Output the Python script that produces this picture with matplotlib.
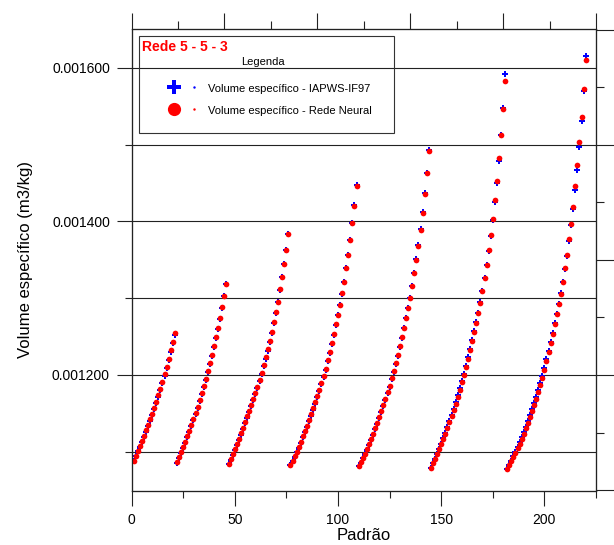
import numpy as np
import matplotlib.pyplot as plt
from matplotlib.lines import Line2D
from matplotlib.legend_handler import HandlerTuple
from matplotlib.patches import Rectangle
from matplotlib.ticker import MultipleLocator, FormatStrFormatter, NullFormatter

plt.rcParams['font.family'] = ['Liberation Sans', 'DejaVu Sans']

# volume específico (m3/kg), uma lista por faixa
iapws_1 = [0.0010878, 0.0010940, 0.0011003, 0.0011066, 0.0011130, 0.0011194, 0.0011261, 0.0011330, 0.0011402, 0.0011477,
           0.0011555, 0.0011634, 0.0011717, 0.0011803, 0.0011894, 0.0011990, 0.0012090, 0.0012195, 0.0012303, 0.0012412,
           0.0012522]
rede_1 = [0.0010883, 0.0010948, 0.0011013, 0.0011078, 0.0011143, 0.0011209, 0.0011278, 0.0011348, 0.0011422, 0.0011496,
          0.0011574, 0.0011652, 0.0011735, 0.0011822, 0.0011913, 0.0012009, 0.0012109, 0.0012213, 0.0012322, 0.0012430,
          0.0012543]

iapws_2 = [0.0010858, 0.0010920, 0.0010983, 0.0011051, 0.0011119, 0.0011187, 0.0011259, 0.0011332, 0.0011409, 0.0011487,
           0.0011569, 0.0011655, 0.0011746, 0.0011838, 0.0011933, 0.0012034, 0.0012139, 0.0012248, 0.0012362, 0.0012477,
           0.0012604, 0.0012733, 0.0012876, 0.0013023, 0.0013190]
rede_2 = [0.0010861, 0.0010926, 0.0010991, 0.0011061, 0.0011130, 0.0011200, 0.0011274, 0.0011348, 0.0011426, 0.0011504,
          0.0011587, 0.0011674, 0.0011765, 0.0011857, 0.0011952, 0.0012052, 0.0012157, 0.0012265, 0.0012378, 0.0012491,
          0.0012617, 0.0012743, 0.0012883, 0.0013026, 0.0013183]

iapws_3 = [0.0010840, 0.0010893, 0.0010955, 0.0011023, 0.0011087, 0.0011155, 0.0011223, 0.0011296, 0.0011369, 0.0011443,
           0.0011516, 0.0011590, 0.0011671, 0.0011749, 0.0011831, 0.0011919, 0.0012014, 0.0012114, 0.0012213, 0.0012318,
           0.0012428, 0.0012545, 0.0012672, 0.0012808, 0.0012949, 0.0013111, 0.0013270, 0.0013445, 0.0013634, 0.0013840]
rede_3 = [0.0010844, 0.0010900, 0.0010965, 0.0011035, 0.0011100, 0.0011169, 0.0011238, 0.0011312, 0.0011385, 0.0011459,
          0.0011532, 0.0011606, 0.0011688, 0.0011766, 0.0011848, 0.0011935, 0.0012030, 0.0012130, 0.0012229, 0.0012333,
          0.0012442, 0.0012558, 0.0012684, 0.0012818, 0.0012957, 0.0013117, 0.0013273, 0.0013446, 0.0013632, 0.0013835]

iapws_4 = [0.0010825, 0.0010874, 0.0010933, 0.0010991, 0.0011054, 0.0011119, 0.0011187, 0.0011256, 0.0011324, 0.0011397,
           0.0011471, 0.0011549, 0.0011627, 0.0011709, 0.0011792, 0.0011879, 0.0011967, 0.0012067, 0.0012177, 0.0012291,
           0.0012409, 0.0012527, 0.0012651, 0.0012775, 0.0012911, 0.0013061, 0.0013215, 0.0013391, 0.0013568, 0.0013765,
           0.0013983, 0.0014213, 0.0014474]
rede_4 = [0.0010828, 0.0010880, 0.0010941, 0.0011001, 0.0011066, 0.0011132, 0.0011201, 0.0011271, 0.0011340, 0.0011414,
          0.0011488, 0.0011566, 0.0011644, 0.0011726, 0.0011809, 0.0011896, 0.0011983, 0.0012082, 0.0012191, 0.0012304,
          0.0012421, 0.0012538, 0.0012660, 0.0012782, 0.0012916, 0.0013064, 0.0013216, 0.0013389, 0.0013563, 0.0013759,
          0.0013976, 0.0014206, 0.0014466]

iapws_5 = [0.0010808, 0.0010857, 0.0010912, 0.0010966, 0.0011025, 0.0011089, 0.0011153, 0.0011222, 0.0011291, 0.0011360,
           0.0011438, 0.0011512, 0.0011590, 0.0011672, 0.0011759, 0.0011847, 0.0011943, 0.0012043, 0.0012144, 0.0012250,
           0.0012364, 0.0012484, 0.0012612, 0.0012740, 0.0012868, 0.0013005, 0.0013160, 0.0013332, 0.0013507, 0.0013696,
           0.0013900, 0.0014126, 0.0014368, 0.0014637, 0.0014935]
rede_5 = [0.0010810, 0.0010862, 0.0010919, 0.0010975, 0.0011036, 0.0011101, 0.0011166, 0.0011236, 0.0011305, 0.0011375,
          0.0011453, 0.0011527, 0.0011605, 0.0011687, 0.0011774, 0.0011861, 0.0011957, 0.0012056, 0.0012156, 0.0012261,
          0.0012373, 0.0012491, 0.0012617, 0.0012743, 0.0012869, 0.0013003, 0.0013155, 0.0013325, 0.0013498, 0.0013685,
          0.0013889, 0.0014115, 0.0014358, 0.0014628, 0.0014923]

iapws_6 = [0.0010789, 0.0010850, 0.0010911, 0.0010976, 0.0011041, 0.0011106, 0.0011175, 0.0011249, 0.0011323, 0.0011401,
           0.0011479, 0.0011562, 0.0011648, 0.0011735, 0.0011826, 0.0011922, 0.0012017, 0.0012122, 0.0012230, 0.0012343,
           0.0012456, 0.0012573, 0.0012690, 0.0012812, 0.0012946, 0.0013098, 0.0013259, 0.0013432, 0.0013614, 0.0013810,
           0.0014018, 0.0014257, 0.0014504, 0.0014786, 0.0015125, 0.0015481, 0.0015928]
rede_6 = [0.0010790, 0.0010848, 0.0010906, 0.0010968, 0.0011031, 0.0011094, 0.0011161, 0.0011233, 0.0011305, 0.0011382,
          0.0011459, 0.0011541, 0.0011627, 0.0011714, 0.0011805, 0.0011902, 0.0011998, 0.0012103, 0.0012212, 0.0012326,
          0.0012441, 0.0012560, 0.0012680, 0.0012805, 0.0012942, 0.0013097, 0.0013261, 0.0013438, 0.0013624, 0.0013824,
          0.0014035, 0.0014274, 0.0014530, 0.0014821, 0.0015125, 0.0015468, 0.0015828]

iapws_7 = [0.0010780, 0.0010833, 0.0010885, 0.0010941, 0.0010997, 0.0011058, 0.0011123, 0.0011188, 0.0011258, 0.0011327,
           0.0011401, 0.0011475, 0.0011553, 0.0011635, 0.0011718, 0.0011805, 0.0011896, 0.0011987, 0.0012095, 0.0012204,
           0.0012317, 0.0012430, 0.0012547, 0.0012677, 0.0012799, 0.0012929, 0.0013063, 0.0013215, 0.0013384, 0.0013554,
           0.0013749, 0.0013953, 0.0014166, 0.0014404, 0.0014669, 0.0014969, 0.0015303, 0.0015698, 0.0016153]
rede_7 = [0.0010781, 0.0010830, 0.0010879, 0.0010932, 0.0010985, 0.0011043, 0.0011105, 0.0011168, 0.0011236, 0.0011303,
          0.0011375, 0.0011448, 0.0011525, 0.0011606, 0.0011689, 0.0011776, 0.0011867, 0.0011960, 0.0012069, 0.0012180,
          0.0012295, 0.0012410, 0.0012530, 0.0012663, 0.0012788, 0.0012922, 0.0013060, 0.0013215, 0.0013390, 0.0013566,
          0.0013766, 0.0013966, 0.0014192, 0.0014456, 0.0014739, 0.0015038, 0.0015364, 0.0015728, 0.0016110]

v_iapws = np.concatenate([iapws_1, iapws_2, iapws_3, iapws_4, iapws_5, iapws_6, iapws_7])
v_rede = np.concatenate([rede_1, rede_2, rede_3, rede_4, rede_5, rede_6, rede_7])
padrao = np.arange(1, len(v_iapws) + 1)

azul = '#0000FF'
vermelho = '#FF0000'

fig = plt.figure(figsize=(6.14, 5.45), dpi=100)
ax = fig.add_axes([0.2142, 0.0991, 0.7565, 0.8477])

ax.plot(padrao, v_iapws, linestyle='none', marker='P', markersize=4.8, color=azul, markeredgewidth=0, zorder=3)
ax.plot(padrao, v_rede, linestyle='none', marker='o', markersize=4.1, color=vermelho, markeredgewidth=0, zorder=4)

ax.set_xlim(0, 225)
ax.set_ylim(0.0010488, 0.0016508)

# eixo inferior / esquerdo
ax.xaxis.set_major_locator(MultipleLocator(50))
ax.xaxis.set_minor_locator(MultipleLocator(25))
ax.yaxis.set_major_locator(MultipleLocator(0.0002))
ax.yaxis.set_minor_locator(MultipleLocator(0.0001))
ax.yaxis.set_major_formatter(FormatStrFormatter('%.6f'))
ax.tick_params(axis='both', which='major', direction='out', length=10.5, width=0.8, labelsize=10, color='#222222')
ax.tick_params(axis='both', which='minor', direction='out', length=5, width=0.8, color='#222222')
ax.tick_params(axis='y', which='major', pad=5)
ax.tick_params(axis='x', which='major', pad=5)
ax.grid(True, axis='y', which='both', color='#222222', linewidth=0.8, zorder=1)
ax.set_axisbelow(True)
for s in ax.spines.values():
    s.set_linewidth(0.8)
    s.set_color('#222222')

ax.set_xlabel('Padrão', fontsize=12, labelpad=1)
ax.set_ylabel('Volume específico (m3/kg)', fontsize=12, labelpad=14)

# eixos secundários (topo e direita) só com marcas
ax_top = ax.twiny()
ax_top.set_xlim(ax.get_xlim())
ax_top.xaxis.set_major_locator(MultipleLocator(45))
ax_top.xaxis.set_minor_locator(MultipleLocator(22.5))
ax_top.xaxis.set_major_formatter(NullFormatter())
ax_top.tick_params(axis='x', which='major', direction='out', length=11.5, width=0.8, color='#222222')
ax_top.tick_params(axis='x', which='minor', direction='out', length=5.5, width=0.8, color='#222222')

ax_dir = ax.twinx()
ax_dir.set_ylim(ax.get_ylim())
ax_dir.yaxis.set_major_locator(MultipleLocator(0.00015))
ax_dir.yaxis.set_minor_locator(MultipleLocator(0.000075))
ax_dir.yaxis.set_major_formatter(NullFormatter())
ax_dir.tick_params(axis='y', which='major', direction='out', length=13, width=0.8, color='#222222')
ax_dir.tick_params(axis='y', which='minor', direction='out', length=6, width=0.8, color='#222222')
for a in (ax_top, ax_dir):
    for s in a.spines.values():
        s.set_linewidth(0.8)
        s.set_color('#222222')

# caixa de legenda
ax.add_patch(Rectangle((0.016, 0.775), 0.549, 0.210, transform=ax.transAxes,
                       fill=False, edgecolor='#333333', linewidth=0.8, zorder=5))
ax.text(0.023, 0.960, 'Rede 5 - 5 - 3', transform=ax.transAxes, color=vermelho,
        fontsize=10, fontweight='bold', va='center', ha='left', zorder=6)
ax.text(0.284, 0.928, 'Legenda', transform=ax.transAxes, fontsize=8, va='center', ha='center', zorder=6)

h_azul = (Line2D([], [], linestyle='none', marker='P', markersize=10, color=azul, markeredgewidth=0),
          Line2D([], [], linestyle='none', marker='.', markersize=1.5, color=azul))
h_verm = (Line2D([], [], linestyle='none', marker='o', markersize=9.5, color=vermelho, markeredgewidth=0),
          Line2D([], [], linestyle='none', marker='.', markersize=1.5, color=vermelho))
leg = ax.legend([h_azul, h_verm],
                ['Volume específico - IAPWS-IF97', 'Volume específico - Rede Neural'],
                handler_map={tuple: HandlerTuple(ndivide=None, pad=0.54)},
                loc='upper left', bbox_to_anchor=(0.077, 0.884), frameon=False,
                fontsize=8, borderpad=0, borderaxespad=0, handlelength=3.06,
                handleheight=1.2, handletextpad=0.58, labelspacing=0.95)
leg.set_zorder(6)

fig.savefig('out.png', dpi=100)
